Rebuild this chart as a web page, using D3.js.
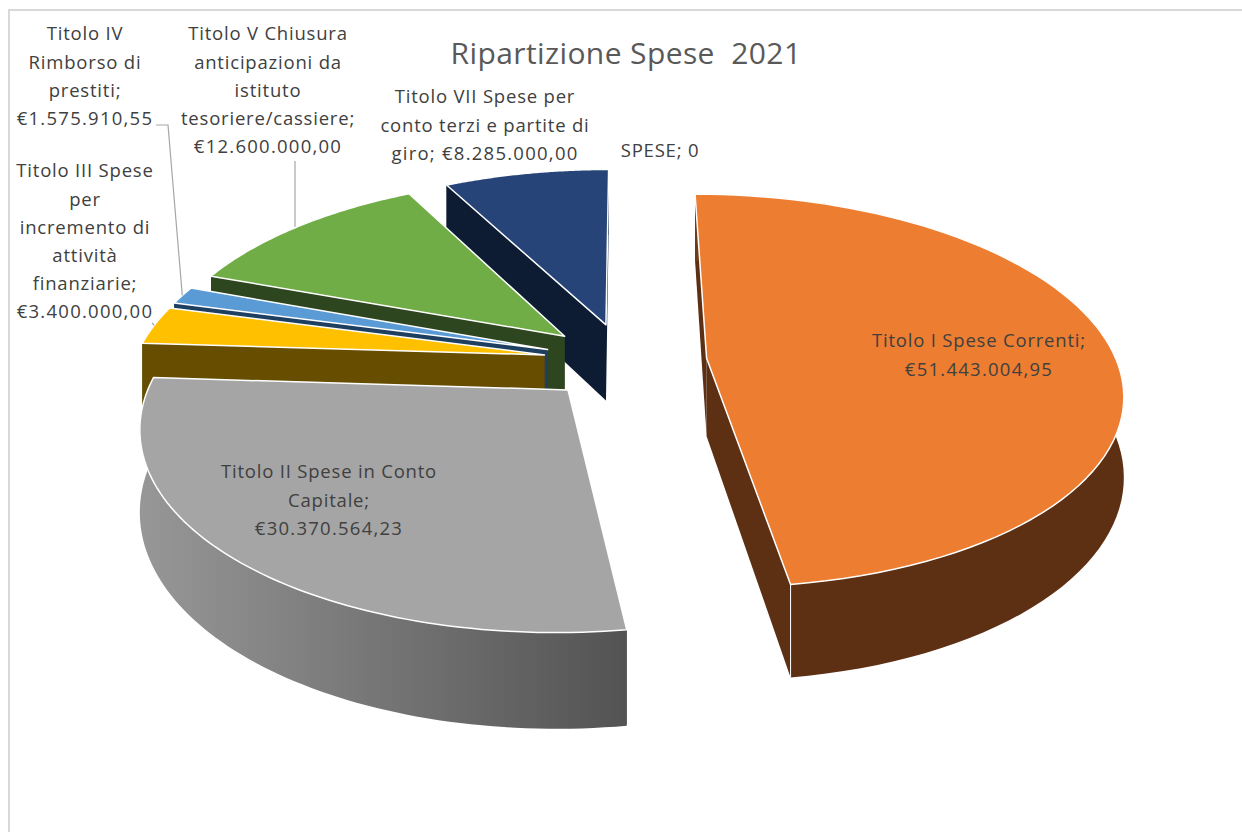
<!DOCTYPE html>
<html>
<head>
<meta charset="utf-8">
<script src="https://cdn.jsdelivr.net/npm/d3@7"></script>
<style>
  html, body { margin: 0; padding: 0; background: #fff; }
  svg { display: block; }
  text { font-family: "Open Sans", sans-serif; }
</style>
</head>
<body>
<div id="chart"></div>
<script>
const TITLE = "Ripartizione Spese  2021";
const categories = ["SPESE", "Titolo I Spese Correnti", "Titolo II Spese in Conto Capitale",
  "Titolo III Spese per incremento di attività finanziarie", "Titolo IV Rimborso di prestiti",
  "Titolo V Chiusura anticipazioni da istituto tesoriere/cassiere",
  "Titolo VII Spese per conto terzi e partite di giro"];
const values = [0, 51443004.95, 30370564.23, 3400000, 1575910.55, 12600000, 8285000];

const topColors = ["#4472c4", "#ed7d31", "#a5a5a5", "#ffc000", "#5b9bd5", "#70ad47", "#264478"];
const wallColors = [["#29447a", "#29447a"], ["#713b16", "#5e3013"], ["#979797", "#535353"], ["#664d00", "#664d00"],
  ["#1f3f60", "#1f3f60"], ["#2d4620", "#2d4620"], ["#0e1c33", "#0e1c33"]];
const cutColors = ["#29447a", "#5e3013", "#535353", "#664d00", "#1f3f60", "#2d4620", "#0e1c33"];

// words per line for every label, label centre x, centre y of the first line, line step
const labelBreaks = [[2], [4, 1], [5, 1, 1], [3, 1, 2, 1, 1, 1], [2, 2, 1, 1], [3, 2, 1, 1, 1], [4, 5, 2]];
const labelX = [660, 979, 329, 85, 85, 268, 485];
const labelY = [151, 341, 472, 171, 34, 34, 97];

const W = 1242, H = 832;
const CX = 625, CY = 361;      // centre of the pie before the slices are pulled out
const RX = 410, RY = 192;      // radius on screen, horizontally and in depth
const PERSP = 0.165;           // how fast things shrink going back
const EXPLODE = 0.2;
const DEPTH = 78;

const svg = d3.select("#chart").append("svg").attr("width", W).attr("height", H);
const defs = svg.append("defs");

// chart frame, only top and left show in the crop
svg.append("path")
    .attr("d", `M9,${H} V10 H${W}`)
    .attr("fill", "none")
    .attr("stroke", "#d9d9d9")
    .attr("stroke-width", 2);

svg.append("text")
    .attr("x", 626).attr("y", 64)
    .attr("text-anchor", "middle")
    .attr("fill", "#595959")
    .attr("font-size", 30)
    .attr("letter-spacing", 0.4)
    .style("white-space", "pre")
    .text(TITLE);

const pie = d3.pie().sort(null).startAngle(0).endAngle(2 * Math.PI);
const arcs = pie(values).map((d, i) => ({...d, i: i, mid: (d.startAngle + d.endAngle) / 2}));

// disc coordinates -> screen. z = 0 is the top face, z = 1 the bottom one
function project(d, angle, r, z) {
    const X = r * Math.sin(angle) + EXPLODE * Math.sin(d.mid);
    const Y = r * Math.cos(angle) + EXPLODE * Math.cos(d.mid);
    const s = 1 / (1 + PERSP * Y);
    return [CX + X * RX * s, CY - Y * RY * s + z * DEPTH * s];
}

const line = d3.line();
const closed = pts => line(pts) + "Z";

function arcPoints(d, z) {
    return d3.range(0, 81).map(k => project(d, d.startAngle + (d.endAngle - d.startAngle) * k / 80, 1, z));
}

// back slices first, so the front ones lie over them
const drawOrder = arcs.filter(d => d.value > 0).sort((a, b) => b.i - a.i);

const slices = svg.selectAll("g.slice")
    .data(drawOrder)
    .enter()
    .append("g")
        .attr("class", "slice");

slices.each(function(d) {
    const g = d3.select(this);
    const top = arcPoints(d, 0), bottom = arcPoints(d, 1);

    // the two cut faces
    [d.startAngle, d.endAngle].forEach(a => {
        g.append("path")
            .attr("d", closed([project(d, a, 0, 0), project(d, a, 1, 0), project(d, a, 1, 1), project(d, a, 0, 1)]))
            .attr("fill", cutColors[d.i]);
    });

    // outer wall, with the gradient running left to right
    const xs = d3.extent(top.concat(bottom), p => p[0]);
    const isGray = d.i === 2;
    const grad = defs.append("linearGradient")
        .attr("id", "wall" + d.i)
        .attr("gradientUnits", "userSpaceOnUse")
        .attr("x1", xs[0]).attr("x2", isGray ? xs[1] : xs[0] + 90)
        .attr("y1", 0).attr("y2", 0);
    grad.append("stop").attr("offset", 0).attr("stop-color", wallColors[d.i][0]);
    grad.append("stop").attr("offset", 1).attr("stop-color", wallColors[d.i][1]);

    g.append("path")
        .attr("d", closed(top.concat(bottom.slice().reverse())))
        .attr("fill", `url(#wall${d.i})`);

    // the orange slice shows a thin white corner where wall and cut face meet
    if (d.i === 1) {
        g.append("path")
            .attr("d", line([project(d, d.endAngle, 1, 0), project(d, d.endAngle, 1, 1)]))
            .attr("stroke", "#fff")
            .attr("stroke-width", 1);
    }

    // top face
    g.append("path")
        .attr("d", closed([project(d, 0, 0, 0)].concat(top)))
        .attr("fill", topColors[d.i])
        .attr("stroke", "#fff")
        .attr("stroke-width", 1.5)
        .attr("stroke-linejoin", "round");
});

// leader lines go from the label to the outer edge of the slice
const leaders = [
    {i: 3, from: [[152, 323]]},
    {i: 4, from: [[156, 125], [168, 125]]},
    {i: 5, from: [[295, 161]]}
];
leaders.forEach(l => {
    const end = project(arcs[l.i], arcs[l.i].mid, 1, 0);
    const pts = l.i === 5 ? [l.from[0], [l.from[0][0], end[1]]] : l.from.concat([end]);
    svg.append("path")
        .attr("d", line(pts))
        .attr("fill", "none")
        .attr("stroke", "#a6a6a6")
        .attr("stroke-width", 1.2);
});

const euro = d3.formatLocale({decimal: ",", thousands: ".", grouping: [3], currency: ["€", ""]}).format("$,.2f");

svg.selectAll("text.label")
    .data(arcs)
    .enter()
    .append("text")
        .attr("class", "label")
        .attr("text-anchor", "middle")
        .attr("fill", "#404040")
        .attr("font-size", 18.5)
    .each(function(d) {
        const words = `${categories[d.i]}; ${d.value ? euro(d.value) : "0"}`.split(" ");
        let w = 0;
        labelBreaks[d.i].forEach((n, k) => {
            const txt = words.slice(w, w + n).join(" ");
            d3.select(this).append("tspan")
                .attr("x", labelX[d.i])
                .attr("y", labelY[d.i] + k * 28.2)
                .attr("dy", "0.35em")
                .attr("letter-spacing", txt.includes("€") ? 1.25 : 0.8)
                .text(txt);
            w += n;
        });
    });
</script>
</body>
</html>
